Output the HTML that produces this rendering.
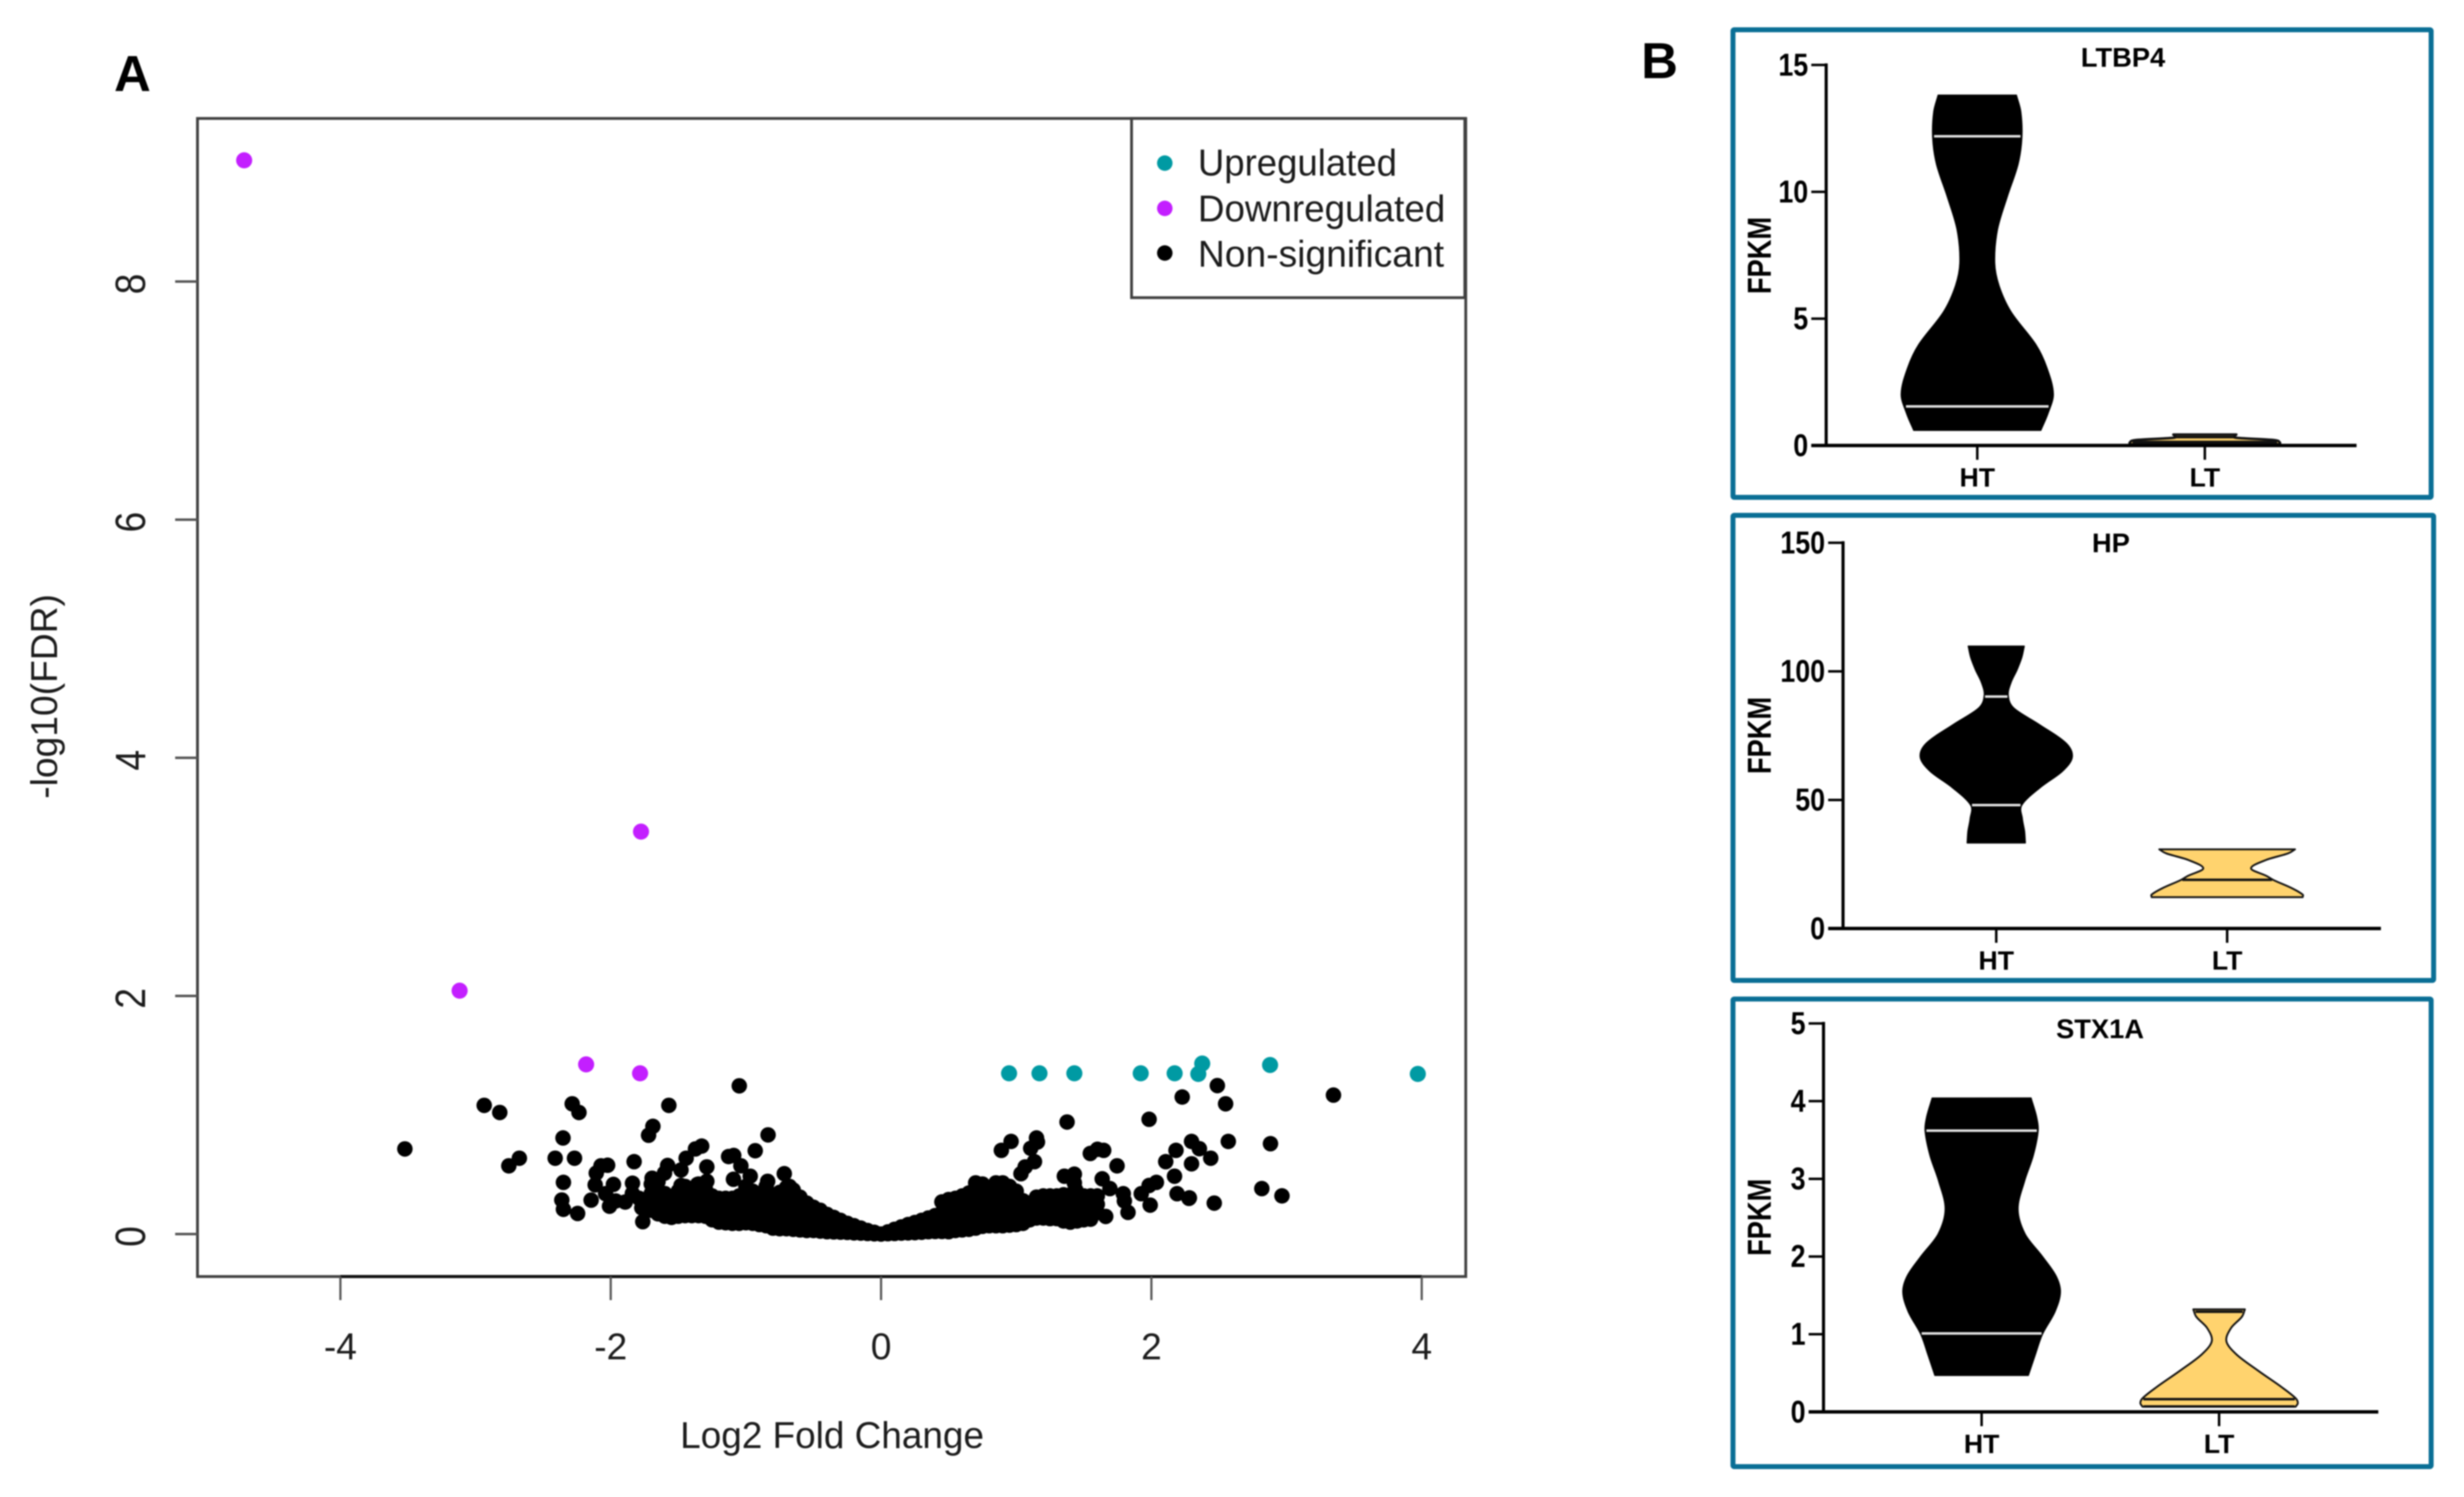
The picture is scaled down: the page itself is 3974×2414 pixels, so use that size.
<!DOCTYPE html>
<html lang="en">
<head>
<meta charset="utf-8">
<title>Volcano plot and FPKM violin plots</title>
<style>
html,body{margin:0;padding:0;background:#fff;}
svg{display:block;font-family:"Liberation Sans",Arial,sans-serif;filter:blur(1.1px);}
</style>
</head>
<body>
<svg id="figure" xmlns="http://www.w3.org/2000/svg" width="3974" height="2414" viewBox="0 0 3974 2414">
  <rect x="0" y="0" width="3974" height="2414" fill="#ffffff"/>
  <text x="184" y="147" font-size="82" font-weight="700" fill="#000">A</text>
  <text x="2647" y="126" font-size="82" font-weight="700" fill="#000">B</text>
  <g id="volcano"></g>
  <g id="violins"></g>
</svg>
<script>
/* ---------- Volcano plot data (log2 fold change, -log10 FDR) ---------- */
const volcanoXTicks = [-4, -2, 0, 2, 4];
const volcanoYTicks = [0, 2, 4, 6, 8];
const legendLabels = ['Upregulated', 'Downregulated', 'Non-significant'];

const upregulatedPoints = [
  [0.947,1.35],[1.172,1.35],[1.43,1.35],[1.921,1.35],[2.172,1.35],[2.347,1.345],[2.376,1.432],[2.878,1.42],[3.971,1.345]
];
const downregulatedPoints = [
  [-4.712,9.018],[-1.776,3.38],[-3.118,2.044],[-2.182,1.425],[-1.783,1.35]
];
const nonSigOutliers = [
  [-3.523,0.715],[-2.676,0.637],[-2.754,0.573],[-2.353,0.807],[-2.411,0.637],[-2.268,0.637],[-2.35,0.434],[-2.362,0.286],[-2.35,0.208],[-2.245,0.173],
  [-2.145,0.285],[-2.072,0.573],[-2.023,0.578],[-2.107,0.512],[-2.115,0.413],[-1.98,0.417],[-2.038,0.339],[-2.009,0.234],[-1.963,0.278],
  [-2.936,1.081],[-2.821,1.021],[-2.285,1.094],[-2.235,1.021],[-1.57,1.081],[-1.049,1.245],[-1.688,0.905],[-1.72,0.83],[-0.836,0.833],[-0.931,0.7],[-1.827,0.608],
  [-1.327,0.739],[-1.373,0.715],[-1.442,0.637],[-1.579,0.576],[-1.602,0.512],[-1.48,0.538],[-1.289,0.564],[-1.128,0.651],[-1.09,0.66],[-1.037,0.573],
  [-1.092,0.46],[-0.968,0.486],[-0.839,0.443],[-0.716,0.507],[-1.839,0.427],[-1.893,0.269],[-1.763,0.104],[-1.694,0.469],[-1.48,0.408],[-1.358,0.417],[-1.289,0.443],[-0.678,0.4],
  [-1.84,0.34],[-1.79,0.3],[-1.77,0.22],
  [0.89,0.703],[0.962,0.778],[1.15,0.807],[1.157,0.773],[1.107,0.72],[1.135,0.608],[1.066,0.564],[1.035,0.507],[1.376,0.941],[1.983,0.964],
  [1.548,0.677],[1.601,0.712],[1.647,0.703],[1.746,0.573],[1.356,0.486],[1.43,0.503],[1.636,0.464],[2.569,0.778],[2.297,0.778],[2.355,0.717],
  [2.439,0.637],[2.297,0.59],[2.182,0.703],[2.106,0.608],[2.171,0.486],[2.037,0.434],[1.983,0.408],[1.925,0.339],[1.991,0.243],[2.19,0.339],
  [2.278,0.3],[2.465,0.26],[1.792,0.339],[1.8,0.278],[1.827,0.182],[1.693,0.382],[1.662,0.148],
  [2.488,1.247],[2.549,1.094],[3.347,1.167],[2.228,1.151],[2.881,0.759],[2.817,0.382],[2.966,0.321],[2.281,0.304],[1.43,0.43],[1.44,0.37]
];
const nonSigCoreLeft = [
  [-1.7,0.42],[-1.7,0.34],[-1.7,0.26],[-1.7,0.2],
  [-1.65,0.44],[-1.65,0.36],[-1.65,0.28],[-1.65,0.22],[-1.65,0.17],
  [-1.6,0.34],[-1.6,0.27],[-1.6,0.2],[-1.6,0.15],
  [-1.55,0.3],[-1.55,0.22],[-1.55,0.14],
  [-1.5,0.36],[-1.5,0.28],[-1.5,0.21],[-1.5,0.15],
  [-1.45,0.4],[-1.45,0.32],[-1.45,0.24],[-1.45,0.155],
  [-1.4,0.36],[-1.4,0.28],[-1.4,0.21],[-1.4,0.155],
  [-1.35,0.42],[-1.35,0.34],[-1.35,0.26],[-1.35,0.2],[-1.35,0.155],
  [-1.3,0.38],[-1.3,0.3],[-1.3,0.22],[-1.3,0.15],
  [-1.25,0.32],[-1.25,0.25],[-1.25,0.18],[-1.25,0.12],
  [-1.2,0.3],[-1.2,0.23],[-1.2,0.16],[-1.2,0.1],
  [-1.15,0.3],[-1.15,0.23],[-1.15,0.16],[-1.15,0.095],
  [-1.1,0.3],[-1.1,0.23],[-1.1,0.16],[-1.1,0.09],
  [-1.05,0.32],[-1.05,0.24],[-1.05,0.16],[-1.05,0.09],
  [-1.0,0.4],[-1.0,0.32],[-1.0,0.24],[-1.0,0.16],[-1.0,0.095],
  [-0.95,0.36],[-0.95,0.28],[-0.95,0.2],[-0.95,0.13],[-0.95,0.09],
  [-0.9,0.33],[-0.9,0.26],[-0.9,0.19],[-0.9,0.13],[-0.9,0.08],
  [-0.85,0.4],[-0.85,0.32],[-0.85,0.24],[-0.85,0.16],[-0.85,0.07],
  [-0.8,0.3],[-0.8,0.22],[-0.8,0.14],[-0.8,0.05],
  [-0.75,0.35],[-0.75,0.27],[-0.75,0.19],[-0.75,0.11],[-0.75,0.045],
  [-0.7,0.39],[-0.7,0.3],[-0.7,0.22],[-0.7,0.14],[-0.7,0.045],
  [-0.65,0.37],[-0.65,0.28],[-0.65,0.2],[-0.65,0.12],[-0.65,0.04],
  [-0.6,0.31],[-0.6,0.23],[-0.6,0.15],[-0.6,0.08],[-0.6,0.035],
  [-0.55,0.26],[-0.55,0.19],[-0.55,0.12],[-0.55,0.03],
  [-0.5,0.225],[-0.5,0.15],[-0.5,0.09],[-0.5,0.03],
  [-0.45,0.2],[-0.45,0.13],[-0.45,0.07],[-0.45,0.025],
  [-0.4,0.165],[-0.4,0.11],[-0.4,0.06],[-0.4,0.02],
  [-0.35,0.14],[-0.35,0.08],[-0.35,0.018],
  [-0.3,0.115],[-0.3,0.06],[-0.3,0.016],
  [-0.25,0.09],[-0.25,0.05],[-0.25,0.014],
  [-0.2,0.07],[-0.2,0.01],
  [-0.15,0.05],[-0.15,0.008],
  [-0.1,0.03],[-0.1,0.005],
  [-0.05,0.015],[-0.05,0.002],
  [0,0.0]
];
const nonSigCoreLeftFill = [
  [-1.675,0.31],[-1.625,0.24],[-1.575,0.18],[-1.525,0.25],[-1.475,0.19],[-1.425,0.27],[-1.375,0.18],[-1.325,0.26],
  [-1.275,0.2],[-1.225,0.14],[-1.175,0.2],[-1.125,0.13],[-1.075,0.2],[-1.025,0.13],[-0.975,0.2],[-0.925,0.16],
  [-0.875,0.2],[-0.825,0.12],[-0.775,0.16],[-0.725,0.08],[-0.675,0.16],[-0.625,0.2],[-0.575,0.1],[-0.525,0.06]
];
const nonSigCoreRight = [
  [0.05,0.018],[0.05,0.003],
  [0.1,0.04],[0.1,0.005],
  [0.15,0.06],[0.15,0.008],
  [0.2,0.08],[0.2,0.01],
  [0.25,0.097],[0.25,0.05],[0.25,0.012],
  [0.3,0.115],[0.3,0.06],[0.3,0.015],
  [0.35,0.135],[0.35,0.08],[0.35,0.02],
  [0.4,0.155],[0.4,0.09],[0.4,0.022],
  [0.45,0.27],[0.45,0.18],[0.45,0.09],[0.45,0.022],
  [0.5,0.29],[0.5,0.2],[0.5,0.11],[0.5,0.02],
  [0.55,0.3],[0.55,0.21],[0.55,0.12],[0.55,0.03],
  [0.6,0.32],[0.6,0.23],[0.6,0.13],[0.6,0.035],
  [0.65,0.345],[0.65,0.25],[0.65,0.15],[0.65,0.04],
  [0.7,0.43],[0.7,0.33],[0.7,0.24],[0.7,0.14],[0.7,0.05],
  [0.75,0.42],[0.75,0.32],[0.75,0.23],[0.75,0.14],[0.75,0.065],
  [0.8,0.34],[0.8,0.25],[0.8,0.16],[0.8,0.07],
  [0.85,0.43],[0.85,0.33],[0.85,0.24],[0.85,0.15],[0.85,0.07],
  [0.9,0.43],[0.9,0.33],[0.9,0.24],[0.9,0.15],[0.9,0.07],
  [0.95,0.4],[0.95,0.31],[0.95,0.22],[0.95,0.14],[0.95,0.075],
  [1.0,0.36],[1.0,0.27],[1.0,0.18],[1.0,0.08],
  [1.05,0.28],[1.05,0.19],[1.05,0.09],
  [1.1,0.26],[1.1,0.19],[1.1,0.12],
  [1.15,0.31],[1.15,0.22],[1.15,0.135],
  [1.2,0.32],[1.2,0.22],[1.2,0.135],
  [1.25,0.32],[1.25,0.22],[1.25,0.13],
  [1.3,0.32],[1.3,0.22],[1.3,0.13],
  [1.35,0.33],[1.35,0.22],[1.35,0.11],
  [1.4,0.33],[1.4,0.21],[1.4,0.1],
  [1.45,0.32],[1.45,0.21],[1.45,0.11],
  [1.5,0.32],[1.5,0.21],[1.5,0.12],
  [1.55,0.32],[1.55,0.21],[1.55,0.125],
  [1.6,0.32],[1.6,0.25],[1.6,0.18]
];
const nonSigCoreRightFill = [
  [0.475,0.14],[0.525,0.25],[0.575,0.17],[0.625,0.28],[0.675,0.19],[0.725,0.28],[0.775,0.19],[0.825,0.29],[0.875,0.19],
  [0.925,0.28],[0.975,0.18],[1.025,0.23],[1.075,0.16],[1.125,0.18],[1.175,0.27],[1.175,0.18],[1.225,0.27],[1.225,0.18],
  [1.275,0.27],[1.275,0.18],[1.325,0.27],[1.325,0.17],[1.375,0.27],[1.375,0.16],[1.425,0.27],[1.425,0.16],
  [1.475,0.27],[1.475,0.16],[1.525,0.27],[1.525,0.17],[1.575,0.27],[1.575,0.19]
];

/* ---------- Violin data: FPKM level and density (half width) at that level ---------- */
const groupLabels = ['HT', 'LT'];

const ltbp4Ticks = [0, 5, 10, 15];
const ltbp4HtFpkm = [13.81,13.16,12.13,11.09,9.8,8.5,7.2,6.3,5.27,3.97,3.07,2.03,1.26,0.6];
const ltbp4HtDensity = [0.72,0.8,0.82,0.75,0.55,0.37,0.32,0.4,0.62,1.08,1.28,1.4,1.3,1.17];
const ltbp4HtQuartiles = [12.19,1.54];
const ltbp4LtFpkm = [0.43,0.36,0.3,0.22,0.12,0.05];
const ltbp4LtDensity = [0.58,0.55,0.6,1.25,1.38,1.37];
const ltbp4LtQuartiles = [0.33,0.14];

const hpTicks = [0, 50, 100, 150];
const hpHtFpkm = [109.8,105.5,100.5,95.6,90.7,85.8,79.6,72.2,66.7,61.2,55,48,42.7,37.8,33.3];
const hpHtDensity = [0.515,0.47,0.38,0.27,0.22,0.32,0.77,1.28,1.4,1.22,0.82,0.47,0.48,0.52,0.535];
const hpHtQuartiles = [90.2,48];
const hpLtFpkm = [30.8,29.2,26.7,23.4,20.5,18.7,15.6,13.2,12.2];
const hpLtDensity = [1.25,1.12,0.72,0.44,0.72,0.87,1.2,1.39,1.39];
const hpLtQuartiles = [18.95];

const stx1aTicks = [0, 1, 2, 3, 4, 5];
const stx1aHtFpkm = [4.04,3.8,3.62,3.3,2.97,2.61,2.29,2.0,1.75,1.54,1.29,1.0,0.74,0.47];
const stx1aHtDensity = [0.91,1.01,1.04,0.95,0.79,0.67,0.8,1.12,1.37,1.45,1.35,1.12,0.99,0.86];
const stx1aHtQuartiles = [3.62,1.01];
const stx1aLtFpkm = [1.32,1.225,1.08,0.91,0.74,0.53,0.32,0.176,0.113,0.067];
const stx1aLtDensity = [0.475,0.42,0.22,0.135,0.32,0.72,1.15,1.41,1.45,1.41];
const stx1aLtQuartiles = [1.29,0.164,0.07];

/* ---------- Helpers ---------- */
const SVG_NS = 'http://www.w3.org/2000/svg';

function make(parent, tag, name, attrs) {
  const el = document.createElementNS(SVG_NS, tag);
  
  
  for (const k in attrs) el.setAttribute(k, attrs[k]);
  parent.appendChild(el);
  return el;
}
function label(parent, name, content, attrs) {
  const el = make(parent, 'text', name, attrs);
  el.textContent = content;
  return el;
}

/* ---------- Volcano plot ---------- */
const volcano = document.getElementById('volcano');
const vx = v => 1421 + 218 * v;
const vy = v => 1990 - 192 * v;
const FRAME = { left: 318.5, right: 2364, top: 191, bottom: 2058.5 };
const COLORS = { up: '#009aa3', down: '#c31fff', ns: '#000000' };

function drawPoints(list, color, name, r) {
  const g = make(volcano, 'g', name + '-series', {});
  list.forEach(p => {
    make(g, 'circle', name + '-point', { cx: vx(p[0]), cy: vy(p[1]), r: r, fill: color });
  });
}

make(volcano, 'rect', 'plot-frame', {
  x: FRAME.left, y: FRAME.top, width: FRAME.right - FRAME.left, height: FRAME.bottom - FRAME.top,
  fill: 'none', stroke: '#404040', 'stroke-width': 4.5
});
make(volcano, 'line', 'x-axis-line', {
  x1: vx(volcanoXTicks[0]), x2: vx(volcanoXTicks[volcanoXTicks.length - 1]), y1: FRAME.bottom, y2: FRAME.bottom,
  stroke: '#111', 'stroke-width': 5
});
volcanoXTicks.forEach(t => {
  make(volcano, 'line', 'x-axis-tick', { x1: vx(t), x2: vx(t), y1: FRAME.bottom, y2: FRAME.bottom + 38, stroke: '#555', 'stroke-width': 3.5 });
  label(volcano, 'x-axis-tick-label', String(t), { x: vx(t), y: 2192, 'font-size': 60, 'text-anchor': 'middle', fill: '#1c1c1c' });
});
volcanoYTicks.forEach(t => {
  make(volcano, 'line', 'y-axis-tick', { x1: FRAME.left - 36, x2: FRAME.left, y1: vy(t), y2: vy(t), stroke: '#555', 'stroke-width': 4 });
  label(volcano, 'y-axis-tick-label', String(t), {
    transform: 'translate(234,' + (vy(t) + 4) + ') rotate(-90) scale(1,1.15)',
    'font-size': 60, 'text-anchor': 'middle', fill: '#1c1c1c'
  });
});
label(volcano, 'x-axis-title', 'Log2 Fold Change', { x: 1097, y: 2335, 'font-size': 60, textLength: 490, lengthAdjust: 'spacingAndGlyphs', fill: '#1c1c1c' });
label(volcano, 'y-axis-title', '-log10(FDR)', {
  transform: 'translate(92,1123) rotate(-90)', 'font-size': 60, 'text-anchor': 'middle', fill: '#1c1c1c'
});

drawPoints(nonSigCoreLeft, COLORS.ns, 'non-significant-core-left', 12.5);
drawPoints(nonSigCoreLeftFill, COLORS.ns, 'non-significant-core-left-fill', 12.5);
drawPoints(nonSigCoreRight, COLORS.ns, 'non-significant-core-right', 12.5);
drawPoints(nonSigCoreRightFill, COLORS.ns, 'non-significant-core-right-fill', 12.5);
drawPoints(nonSigOutliers, COLORS.ns, 'non-significant', 12.5);
drawPoints(upregulatedPoints, COLORS.up, 'upregulated', 13);
drawPoints(downregulatedPoints, COLORS.down, 'downregulated', 13);

const legend = make(volcano, 'g', 'legend', {});
make(legend, 'rect', 'legend-box', { x: 1825, y: 191, width: 537.5, height: 289, fill: '#fff', stroke: '#404040', 'stroke-width': 4.5 });
const legendColors = [COLORS.up, COLORS.down, COLORS.ns];
const legendRowY = [263, 336, 408];
const legendBaseY = [283, 357, 430];
const legendWidths = [321, 399, 397];
legendLabels.forEach((txt, i) => {
  make(legend, 'circle', 'legend-marker', { cx: 1878.6, cy: legendRowY[i], r: 12.5, fill: legendColors[i] });
  label(legend, 'legend-entry', txt, { x: 1932, y: legendBaseY[i], 'font-size': 60, textLength: legendWidths[i], lengthAdjust: 'spacingAndGlyphs', fill: '#1c1c1c' });
});

/* ---------- Violin panels ---------- */
const violinRoot = document.getElementById('violins');
const DENSITY_PX = 87.6;

/* Outline x is treated as a function of y so unevenly spaced levels stay smooth */
function smoothSide(pts) {
  const slope = i => {
    const a = pts[Math.max(i - 1, 0)], b = pts[Math.min(i + 1, pts.length - 1)];
    return (b[0] - a[0]) / (b[1] - a[1]);
  };
  let d = '';
  for (let i = 0; i < pts.length - 1; i++) {
    const p1 = pts[i], p2 = pts[i + 1], h = (p2[1] - p1[1]) / 3;
    d += 'C' + (p1[0] + slope(i) * h).toFixed(1) + ' ' + (p1[1] + h).toFixed(1) + ' ' +
      (p2[0] - slope(i + 1) * h).toFixed(1) + ' ' + (p2[1] - h).toFixed(1) + ' ' +
      p2[0].toFixed(1) + ' ' + p2[1].toFixed(1);
  }
  return d;
}
function densityAt(fpkm, density, v) {
  for (let i = 0; i < fpkm.length - 1; i++) {
    if (v <= fpkm[i] && v >= fpkm[i + 1]) {
      const t = (v - fpkm[i + 1]) / (fpkm[i] - fpkm[i + 1]);
      return density[i + 1] + t * (density[i] - density[i + 1]);
    }
  }
  return v > fpkm[0] ? density[0] : density[density.length - 1];
}
function drawViolin(parent, name, cx, yOf, fpkm, density, quartiles, fill, stroke, lineColor, strokeWidth) {
  const right = fpkm.map((v, i) => [cx + density[i] * DENSITY_PX, yOf(v)]);
  const left = fpkm.map((v, i) => [cx - density[i] * DENSITY_PX, yOf(v)]).reverse();
  const d = 'M' + right[0][0] + ' ' + right[0][1] + smoothSide(right) +
    'L' + left[0][0] + ' ' + left[0][1] + smoothSide(left) + 'Z';
  make(parent, 'path', name + '-violin', { d: d, fill: fill, stroke: stroke, 'stroke-width': strokeWidth, 'stroke-linejoin': 'round' });
  quartiles.forEach(q => {
    const hw = densityAt(fpkm, density, q) * DENSITY_PX - 2;
    make(parent, 'line', name + '-quartile-line', { x1: cx - hw, x2: cx + hw, y1: yOf(q), y2: yOf(q), stroke: lineColor, 'stroke-width': 4 });
  });
}
function drawPanel(cfg) {
  const g = make(violinRoot, 'g', cfg.name + '-panel', {});
  make(g, 'rect', cfg.name + '-panel-border', {
    x: cfg.left, y: cfg.top, width: cfg.right - cfg.left, height: cfg.bottom - cfg.top,
    fill: '#fff', stroke: '#0a6f96', 'stroke-width': 8, rx: 2
  });
  const maxTick = cfg.ticks[cfg.ticks.length - 1];
  const yOf = v => cfg.y0 - (cfg.y0 - cfg.yMax) * v / maxTick;

  drawViolin(g, cfg.name + '-ht', cfg.htX, yOf, cfg.htFpkm, cfg.htDensity, cfg.htQuartiles, '#000', '#000', '#e6e6e6', 2);
  drawViolin(g, cfg.name + '-lt', cfg.ltX, yOf, cfg.ltFpkm, cfg.ltDensity, cfg.ltQuartiles, '#ffd36e', '#111', '#111', cfg.ltStroke);

  make(g, 'line', cfg.name + '-y-axis', { x1: cfg.axisX, x2: cfg.axisX, y1: cfg.yMax - 2.5, y2: cfg.y0 + 2.5, stroke: '#000', 'stroke-width': 5 });
  make(g, 'line', cfg.name + '-x-axis', { x1: cfg.axisX - 24, x2: cfg.axisEnd, y1: cfg.y0, y2: cfg.y0, stroke: '#000', 'stroke-width': 5.5 });
  cfg.ticks.forEach(t => {
    make(g, 'line', cfg.name + '-y-tick', { x1: cfg.axisX - 24, x2: cfg.axisX, y1: yOf(t), y2: yOf(t), stroke: '#000', 'stroke-width': 4 });
    label(g, cfg.name + '-y-tick-label', String(t), {
      transform: 'translate(' + (cfg.axisX - 29) + ',' + (yOf(t) + 17) + ') scale(0.9,1.06)',
      'font-size': 48, 'font-weight': 700, 'text-anchor': 'end', fill: '#000'
    });
  });
  [cfg.htX, cfg.ltX].forEach((x, i) => {
    make(g, 'line', cfg.name + '-x-tick', { x1: x, x2: x, y1: cfg.y0, y2: cfg.y0 + 23, stroke: '#000', 'stroke-width': 4 });
    label(g, cfg.name + '-x-tick-label', groupLabels[i], { x: x, y: cfg.y0 + 66, 'font-size': 43, 'font-weight': 700, 'text-anchor': 'middle', fill: '#000' });
  });
  label(g, cfg.name + '-title', cfg.title, { x: cfg.titleX, y: cfg.titleY, 'font-size': 44, 'font-weight': 700, 'text-anchor': 'middle', fill: '#000' });
  label(g, cfg.name + '-y-axis-title', 'FPKM', {
    transform: 'translate(2856,' + cfg.yTitleY + ') rotate(-90) scale(1,1.22)',
    'font-size': 44, 'font-weight': 700, 'text-anchor': 'middle', fill: '#000'
  });
}

drawPanel({
  name: 'ltbp4', title: 'LTBP4', left: 2795, right: 3921, top: 48, bottom: 802,
  axisX: 2945.3, axisEnd: 3800.7, y0: 718.4, yMax: 104.8, htX: 3189, ltX: 3556, titleX: 3424, titleY: 107.5, yTitleY: 412,
  ticks: ltbp4Ticks, htFpkm: ltbp4HtFpkm, htDensity: ltbp4HtDensity, htQuartiles: ltbp4HtQuartiles,
  ltFpkm: ltbp4LtFpkm, ltDensity: ltbp4LtDensity, ltQuartiles: ltbp4LtQuartiles, ltStroke: 4
});
drawPanel({
  name: 'hp', title: 'HP', left: 2795, right: 3925, top: 831, bottom: 1581,
  axisX: 2972.5, axisEnd: 3840, y0: 1497.3, yMax: 875.3, htX: 3219.6, ltX: 3592, titleX: 3404.6, titleY: 890.6, yTitleY: 1186,
  ticks: hpTicks, htFpkm: hpHtFpkm, htDensity: hpHtDensity, htQuartiles: hpHtQuartiles,
  ltFpkm: hpLtFpkm, ltDensity: hpLtDensity, ltQuartiles: hpLtQuartiles, ltStroke: 3
});
drawPanel({
  name: 'stx1a', title: 'STX1A', left: 2795, right: 3921, top: 1611, bottom: 2365,
  axisX: 2941, axisEnd: 3835.8, y0: 2276.8, yMax: 1650.4, htX: 3196, ltX: 3579, titleX: 3387, titleY: 1674, yTitleY: 1963,
  ticks: stx1aTicks, htFpkm: stx1aHtFpkm, htDensity: stx1aHtDensity, htQuartiles: stx1aHtQuartiles,
  ltFpkm: stx1aLtFpkm, ltDensity: stx1aLtDensity, ltQuartiles: stx1aLtQuartiles, ltStroke: 3
});
</script>
</body>
</html>
